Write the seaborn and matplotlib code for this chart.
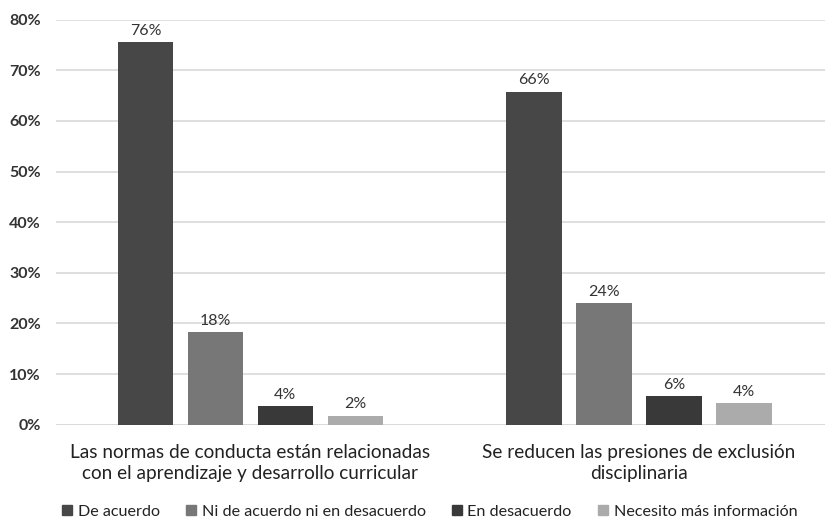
import pandas as pd
import matplotlib.pyplot as plt
import seaborn as sns
from matplotlib.ticker import PercentFormatter
from matplotlib.lines import Line2D

# ===============================
# DATA
# ===============================
categories = [
    "Las normas de conducta están relacionadas\ncon el aprendizaje y desarrollo curricular",
    "Se reducen las presiones de exclusión\ndisciplinaria",
]
series = ["De acuerdo", "Ni de acuerdo ni en desacuerdo", "En desacuerdo", "Necesito más información"]
de_acuerdo = [0.756, 0.658]
ni_ni = [0.183, 0.240]
en_desacuerdo = [0.037, 0.056]
necesito_info = [0.018, 0.042]
colors = ["#474747", "#777777", "#393939", "#ababab"]

df = pd.DataFrame({
    "categoria": categories * 4,
    "respuesta": [s for s in series for _ in categories],
    "valor": de_acuerdo + ni_ni + en_desacuerdo + necesito_info,
})

# ===============================
# PLOT
# ===============================
sns.set_style("white")
plt.rcParams["font.family"] = ["Lato", "DejaVu Sans"]

fig = plt.figure(figsize=(8.25, 5.18), dpi=100)
ax = fig.add_axes([0.068, 0.18, 0.942, 0.782])

sns.barplot(data=df, x="categoria", y="valor", hue="respuesta",
            hue_order=series, palette=colors, width=0.72, gap=0.21,
            edgecolor="none", saturation=1, legend=False, ax=ax)

for cont in ax.containers:
    ax.bar_label(cont, labels=[f"{round(v * 100)}%" for v in cont.datavalues],
                 padding=3, fontsize=11.5, color="#333333")

ax.set_ylim(0, 0.8)
ax.set_yticks([i / 10 for i in range(9)])
ax.yaxis.set_major_formatter(PercentFormatter(1.0, decimals=0))
ax.yaxis.grid(True, color="#d9d9d9", linewidth=1.2)
ax.set_axisbelow(True)
sns.despine(ax=ax, left=True, bottom=True, top=True, right=True)
ax.axhline(0, color="#d9d9d9", linewidth=1.2, zorder=0)
ax.set_xlabel("")
ax.set_ylabel("")
ax.tick_params(axis="y", length=0, pad=11, labelsize=11.5, labelcolor="#333333")
ax.tick_params(axis="x", length=0, pad=14, labelsize=13.7, labelcolor="#222222")
for lbl in ax.get_yticklabels():
    lbl.set_fontweight("bold")
for lbl in ax.get_xticklabels():
    lbl.set_linespacing(1.3)

handles = [Line2D([0], [0], marker="s", linestyle="", markersize=7,
                  markerfacecolor=c, markeredgecolor=c) for c in colors]
fig.legend(handles, series, loc="lower center", bbox_to_anchor=(0.521, -0.03),
           ncol=4, frameon=False, fontsize=11.6, handlelength=0.6,
           handletextpad=0.35, columnspacing=1.65, labelcolor="#222222")

fig.savefig("out.png", dpi=100)
